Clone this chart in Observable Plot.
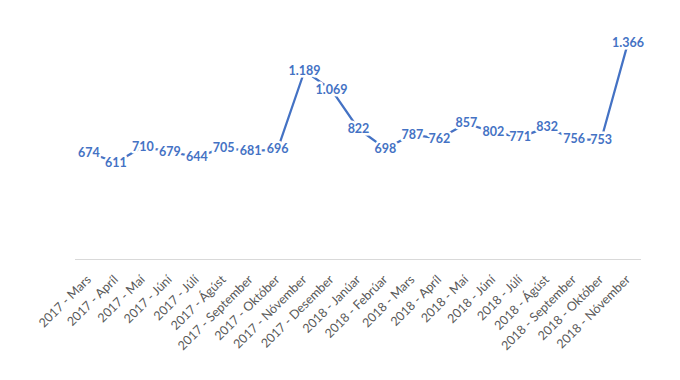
<!DOCTYPE html>
<html>
<head>
<meta charset="utf-8">
<script src="https://cdn.jsdelivr.net/npm/d3@7"></script>
<script src="https://cdn.jsdelivr.net/npm/@observablehq/plot@0.6"></script>
<style>
  html, body { margin: 0; padding: 0; background: #fff; }
  #chart svg { display: block; }
</style>
</head>
<body>
<div id="chart"></div>
<script>
const categories = [
  "2017 - Mars", "2017 - Apríl", "2017 - Maí", "2017 - Júní", "2017 - Júlí",
  "2017 - Ágúst", "2017 - September", "2017 - Október", "2017 - Nóvember",
  "2017 - Desember", "2018 - Janúar", "2018 - Febrúar", "2018 - Mars",
  "2018 - Apríl", "2018 - Maí", "2018 - Júní", "2018 - Júlí", "2018 - Ágúst",
  "2018 - September", "2018 - Október", "2018 - Nóvember"
];
const values = [674, 611, 710, 679, 644, 705, 681, 696, 1189, 1069, 822, 698, 787, 762, 857, 802, 771, 832, 756, 753, 1366];

const data = categories.map((c, i) => ({cat: c, value: values[i]}));
const fmt = d3.formatLocale({decimal: ",", thousands: ".", grouping: [3], currency: ["", ""]}).format(",");
const blue = "#4472C4";

const chart = Plot.plot({
  width: 680,
  height: 380,
  marginLeft: 75,
  marginRight: 39,
  marginTop: 5,
  marginBottom: 121,
  style: {fontFamily: "Lato, 'Open Sans', sans-serif", background: "#fff"},
  x: {type: "point", domain: categories, padding: 0.5, round: false, axis: null},
  y: {domain: [0, 1600], axis: null},
  marks: [
    Plot.ruleY([0], {stroke: "#d9d9d9", strokeWidth: 1}),
    Plot.line(data, {x: "cat", y: "value", stroke: blue, strokeWidth: 2.25}),
    Plot.text(data, {
      x: "cat", y: "value", text: d => fmt(d.value),
      fill: blue, fontSize: 12.5, fontWeight: "bold",
      stroke: "white", strokeWidth: 5, strokeLinejoin: "round"
    }),
    Plot.text(categories, {
      x: d => d, frameAnchor: "bottom", text: d => d,
      rotate: -45, textAnchor: "end", lineAnchor: "middle",
      dx: 0, dy: 18, fill: "#595959", fontSize: 12.5
    })
  ]
});
document.getElementById("chart").append(chart);
</script>
</body>
</html>
